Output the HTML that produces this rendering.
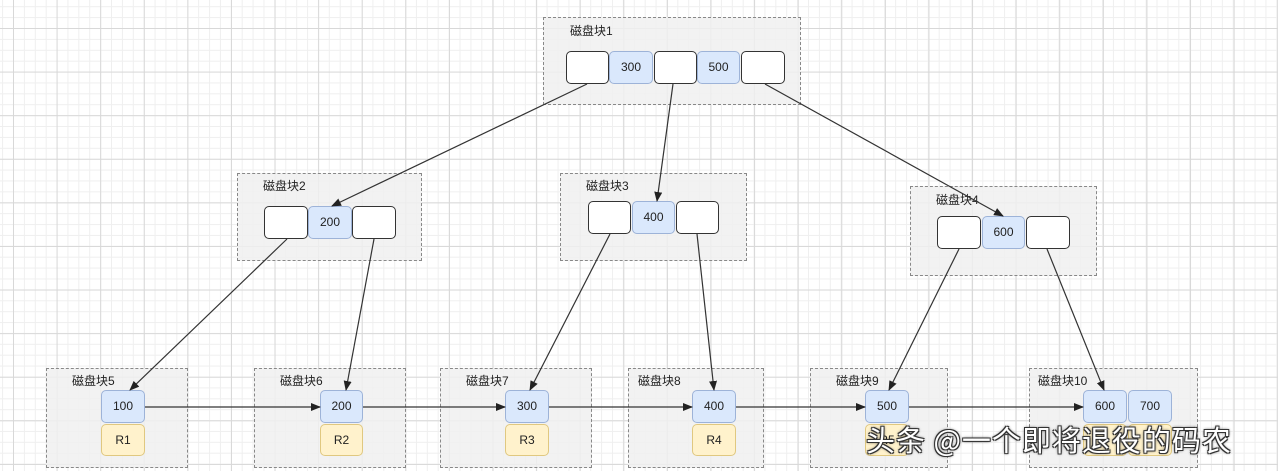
<!DOCTYPE html>
<html><head><meta charset="utf-8"><style>
body{margin:0;width:1278px;height:471px;overflow:hidden;position:relative;font-family:"Liberation Sans","Noto Sans CJK SC",sans-serif;
background-color:#fff;
background-image:linear-gradient(90deg,#d8d8d8 1px,transparent 1px),linear-gradient(#d8d8d8 1px,transparent 1px),linear-gradient(90deg,#efefef 1px,transparent 1px),linear-gradient(#efefef 1px,transparent 1px);
background-size:43.6px 43.6px,43.6px 43.6px,10.9px 10.9px,10.9px 10.9px;
background-position:13px 0,0 28px,13px 0,0 28px;}
.b{position:absolute;border:1.5px dashed #888;background:rgba(240,240,240,0.85);box-sizing:border-box}
.l{position:absolute;font-size:12px;color:#222}
.c{position:absolute;box-sizing:border-box;border:1.3px solid #333;border-radius:5px;background:#fff;font-size:12px;text-align:center;color:#222}
.u{background:#dae8fc;border-color:#9db3d8}
.y{background:#fff2cc;border-color:#e0c880}
svg{position:absolute;left:0;top:0}
.w{position:absolute;left:866px;top:418px;font-size:29px;letter-spacing:1px;color:#fff;font-family:"Noto Sans CJK SC",sans-serif;text-shadow:-1px -1px 0 #333,1px -1px 0 #333,-1px 1px 0 #333,1px 1px 0 #333,0 0 3px #000;white-space:nowrap}
</style></head><body>
<div class="b" style="left:543px;top:17px;width:258px;height:88px"></div><div class="l" style="left:570px;top:22px">磁盘块1</div>
<div class="b" style="left:237px;top:173px;width:185px;height:88px"></div><div class="l" style="left:263px;top:177px">磁盘块2</div>
<div class="b" style="left:560px;top:173px;width:187px;height:88px"></div><div class="l" style="left:586px;top:177px">磁盘块3</div>
<div class="b" style="left:910px;top:186px;width:187px;height:90px"></div><div class="l" style="left:936px;top:191px">磁盘块4</div>
<div class="b" style="left:46px;top:368px;width:142px;height:100px"></div><div class="l" style="left:72px;top:372px">磁盘块5</div>
<div class="b" style="left:254px;top:368px;width:152px;height:100px"></div><div class="l" style="left:280px;top:372px">磁盘块6</div>
<div class="b" style="left:440px;top:368px;width:152px;height:100px"></div><div class="l" style="left:466px;top:372px">磁盘块7</div>
<div class="b" style="left:628px;top:368px;width:136px;height:100px"></div><div class="l" style="left:638px;top:372px">磁盘块8</div>
<div class="b" style="left:810px;top:368px;width:138px;height:100px"></div><div class="l" style="left:836px;top:372px">磁盘块9</div>
<div class="b" style="left:1029px;top:368px;width:169px;height:100px"></div><div class="l" style="left:1038px;top:372px">磁盘块10</div>

<div class="c" style="left:566px;top:51px;width:43px;height:33px"></div>
<div class="c u" style="left:609px;top:51px;width:44px;height:33px;line-height:31px">300</div>
<div class="c" style="left:654px;top:51px;width:43px;height:33px"></div>
<div class="c u" style="left:697px;top:51px;width:43px;height:33px;line-height:31px">500</div>
<div class="c" style="left:741px;top:51px;width:44px;height:33px"></div>

<div class="c" style="left:264px;top:206px;width:44px;height:33px"></div>
<div class="c u" style="left:308px;top:206px;width:44px;height:33px;line-height:31px">200</div>
<div class="c" style="left:352px;top:206px;width:44px;height:33px"></div>

<div class="c" style="left:588px;top:201px;width:43px;height:33px"></div>
<div class="c u" style="left:632px;top:201px;width:43px;height:33px;line-height:31px">400</div>
<div class="c" style="left:676px;top:201px;width:43px;height:33px"></div>

<div class="c" style="left:937px;top:216px;width:44px;height:33px"></div>
<div class="c u" style="left:982px;top:216px;width:43px;height:33px;line-height:31px">600</div>
<div class="c" style="left:1026px;top:216px;width:44px;height:33px"></div>

<div class="c u" style="left:101px;top:390px;width:44px;height:33px;line-height:31px">100</div>
<div class="c y" style="left:101px;top:424px;width:44px;height:32px;line-height:30px">R1</div>
<div class="c u" style="left:320px;top:390px;width:43px;height:33px;line-height:31px">200</div>
<div class="c y" style="left:320px;top:424px;width:43px;height:32px;line-height:30px">R2</div>
<div class="c u" style="left:505px;top:390px;width:44px;height:33px;line-height:31px">300</div>
<div class="c y" style="left:505px;top:424px;width:44px;height:32px;line-height:30px">R3</div>
<div class="c u" style="left:692px;top:390px;width:44px;height:33px;line-height:31px">400</div>
<div class="c y" style="left:692px;top:424px;width:44px;height:32px;line-height:30px">R4</div>
<div class="c u" style="left:865px;top:390px;width:44px;height:33px;line-height:31px">500</div>
<div class="c y" style="left:865px;top:424px;width:44px;height:32px;line-height:30px">R5</div>
<div class="c u" style="left:1083px;top:390px;width:44px;height:33px;line-height:31px">600</div>
<div class="c u" style="left:1128px;top:390px;width:44px;height:33px;line-height:31px">700</div>
<div class="c y" style="left:1083px;top:424px;width:44px;height:32px"></div>
<div class="c y" style="left:1128px;top:424px;width:44px;height:32px"></div>

<svg width="1278" height="471"><defs><marker id="a" markerWidth="10" markerHeight="8" refX="9" refY="4" orient="auto" markerUnits="userSpaceOnUse"><path d="M0,0L10,4L0,8z" fill="#222"/></marker></defs>
<g stroke="#333" stroke-width="1.2" fill="none" marker-end="url(#a)">
<line x1="587" y1="84" x2="332" y2="206"/>
<line x1="673" y1="84" x2="657" y2="201"/>
<line x1="765" y1="84" x2="1003" y2="216"/>
<line x1="287" y1="239" x2="130" y2="390"/>
<line x1="374" y1="239" x2="346" y2="390"/>
<line x1="610" y1="234" x2="530" y2="390"/>
<line x1="697" y1="234" x2="714" y2="390"/>
<line x1="959" y1="249" x2="889" y2="390"/>
<line x1="1047" y1="249" x2="1104" y2="390"/>
<line x1="145" y1="407" x2="320" y2="407"/>
<line x1="363" y1="407" x2="505" y2="407"/>
<line x1="549" y1="407" x2="692" y2="407"/>
<line x1="736" y1="407" x2="865" y2="407"/>
<line x1="909" y1="407" x2="1083" y2="407"/>
</g></svg>
<div class="w">头条 @一个即将退役的码农</div>
</body></html>
